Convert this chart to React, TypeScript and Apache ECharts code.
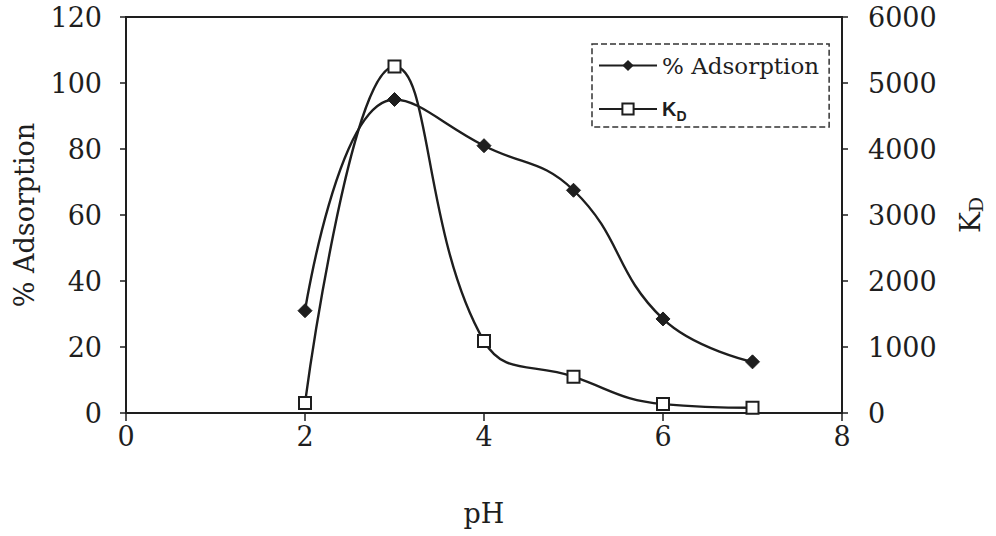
import React, { useEffect, useRef } from "react";
import * as echarts from "echarts";

const pH = [2, 3, 4, 5, 6, 7];
const adsorption = [31, 95, 81, 67.5, 28.5, 15.5];
const kd = [150, 5250, 1090, 550, 135, 80];
const xTicks = [0, 2, 4, 6, 8];

const INK = "#1e1e1e";
const SERIF = "'DejaVu Serif', 'Liberation Serif', serif";
const SANS = "'Liberation Sans', Arial, sans-serif";

export default function App() {
  const ref = useRef<HTMLDivElement>(null);
  useEffect(() => {
    document.body.style.margin = "0";
    if (!ref.current) return;
    const chart = echarts.init(ref.current, undefined, { renderer: "svg" });
    chart.setOption({
      animation: false,
      backgroundColor: "#ffffff",
      grid: {
        left: 126,
        right: 154,
        top: 17,
        bottom: 123,
        show: true,
        borderColor: INK,
        borderWidth: 2,
        backgroundColor: "transparent",
      },
      legend: {
        left: 592,
        top: 44,
        orient: "vertical",
        itemWidth: 58,
        itemHeight: 14,
        itemGap: 22,
        padding: [10, 10, 4, 6],
        borderColor: "#333",
        borderWidth: 1.5,
        borderType: "dashed",
        data: ["% Adsorption", "KD"],
        formatter: (name: string) =>
          name === "KD" ? "{k|K}{d|D}" : "{a|" + name + "}",
        textStyle: {
          color: INK,
          rich: {
            a: { fontFamily: SERIF, fontSize: 23, color: INK, lineHeight: 28 },
            k: { fontFamily: SANS, fontSize: 20, fontWeight: "bold", color: INK, lineHeight: 28 },
            d: {
              fontFamily: SANS,
              fontSize: 14,
              fontWeight: "bold",
              color: INK,
              verticalAlign: "bottom",
              padding: [8, 0, 0, 0],
            },
          },
        },
      },
      xAxis: {
        type: "value",
        min: 0,
        max: 8,
        interval: 2,
        name: "pH",
        nameLocation: "middle",
        nameGap: 87,
        nameTextStyle: { fontFamily: SERIF, fontSize: 27, color: INK },
        axisLine: { show: true, lineStyle: { color: INK, width: 2 } },
        axisTick: { show: true, inside: false, length: 8, lineStyle: { color: INK, width: 1.5 } },
        axisLabel: {
          fontFamily: SERIF,
          fontSize: 27,
          color: INK,
          margin: 10,
          customValues: xTicks,
        },
        splitLine: { show: false },
      },
      yAxis: [
        {
          type: "value",
          min: 0,
          max: 120,
          interval: 20,
          position: "left",
          name: "% Adsorption",
          nameLocation: "middle",
          nameRotate: 90,
          nameGap: 88,
          nameTextStyle: { fontFamily: SERIF, fontSize: 27, color: INK },
          axisLine: { show: true, lineStyle: { color: INK, width: 2 } },
          axisTick: { show: true, length: 6, lineStyle: { color: INK, width: 1.5 } },
          axisLabel: { fontFamily: SERIF, fontSize: 27, color: INK, margin: 24 },
          splitLine: { show: false },
        },
        {
          type: "value",
          min: 0,
          max: 6000,
          interval: 1000,
          position: "right",
          name: "{k|K}{d|D}",
          nameLocation: "middle",
          nameRotate: 90,
          nameGap: 114,
          nameTextStyle: {
            color: INK,
            rich: {
              k: { fontFamily: SERIF, fontSize: 28, color: INK },
              d: { fontFamily: SERIF, fontSize: 19, color: INK, verticalAlign: "bottom", padding: [10, 0, 0, 0] },
            },
          },
          axisLine: { show: true, lineStyle: { color: INK, width: 2 } },
          axisTick: { show: true, length: 6, lineStyle: { color: INK, width: 1.5 } },
          axisLabel: {
            fontFamily: SERIF,
            fontSize: 27,
            color: INK,
            margin: 26,
            formatter: (v: number) => String(v),
          },
          splitLine: { show: false },
        },
      ],
      series: [
        {
          name: "% Adsorption",
          type: "line",
          yAxisIndex: 0,
          smooth: 0.45,
          data: pH.map((x, i) => [x, adsorption[i]]),
          symbol: "diamond",
          symbolSize: 14,
          itemStyle: { color: INK, borderColor: INK },
          lineStyle: { color: INK, width: 2.4 },
          z: 3,
        },
        {
          name: "KD",
          type: "line",
          yAxisIndex: 1,
          smooth: 0.45,
          data: pH.map((x, i) => [x, kd[i]]),
          symbol: "rect",
          symbolSize: 12,
          itemStyle: { color: "#ffffff", borderColor: INK, borderWidth: 2 },
          lineStyle: { color: INK, width: 2.4 },
          z: 4,
        },
      ],
    });
    return () => chart.dispose();
  }, []);
  return <div ref={ref} style={{ width: 996, height: 536 }} />;
}
